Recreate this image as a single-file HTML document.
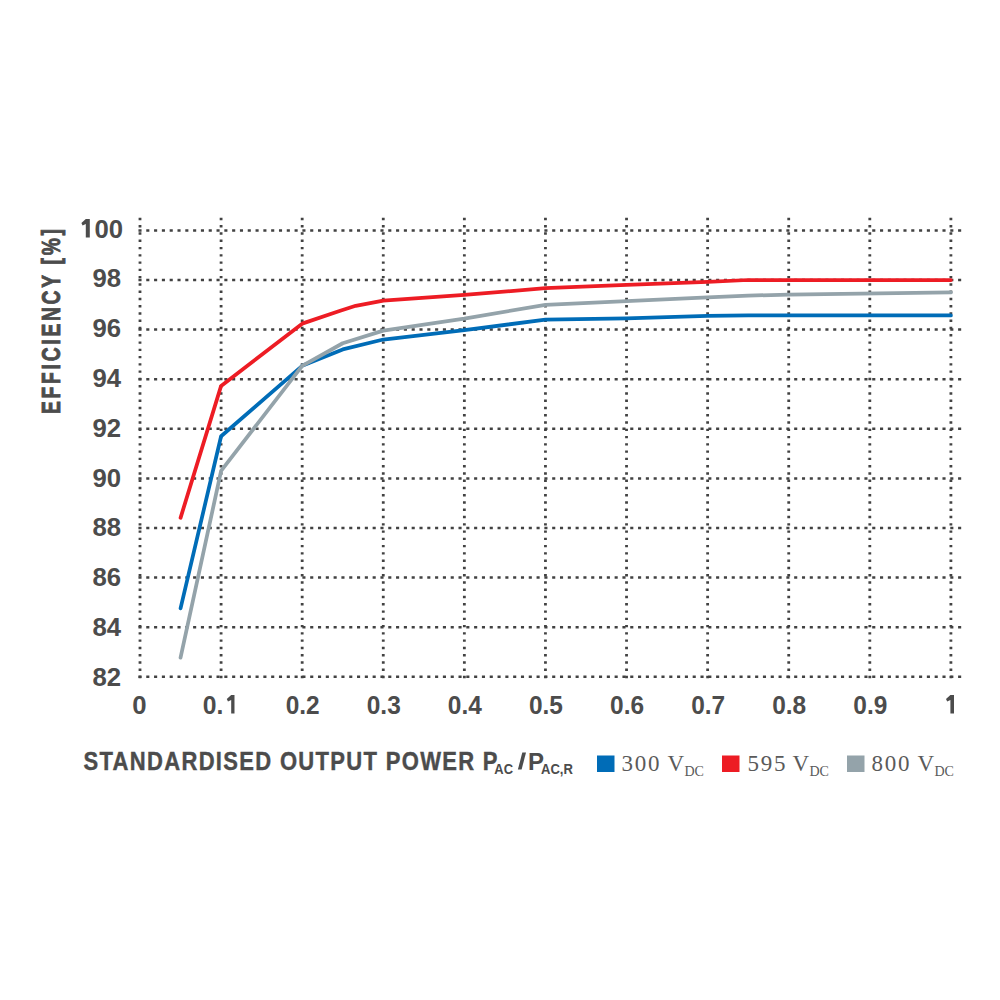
<!DOCTYPE html>
<html><head><meta charset="utf-8"><style>
html,body{margin:0;padding:0;background:#fff;width:1000px;height:1000px;overflow:hidden}
svg{position:absolute;left:0;top:0}
.lab{font-family:"Liberation Sans",sans-serif;font-weight:bold;font-size:26.6px;fill:#4c4c4c}
.ttl{font-family:"Liberation Sans",sans-serif;font-weight:bold;font-size:24px;fill:#4c4c4c}
.sb{font-family:"Liberation Sans",sans-serif;font-weight:bold;font-size:14px;fill:#4c4c4c}
.leg{font-family:"Liberation Serif",serif;font-size:23px;fill:#5a5a5a}
.sub{font-family:"Liberation Serif",serif;font-size:14px;fill:#5a5a5a}
</style></head><body>
<svg width="1000" height="1000" viewBox="0 0 1000 1000">
<g stroke="#424242" stroke-width="2.8" stroke-dasharray="2.4 4.87" fill="none">
<line x1="140.00" y1="217.8" x2="140.00" y2="678.4"/><line x1="221.09" y1="217.8" x2="221.09" y2="678.4"/><line x1="302.18" y1="217.8" x2="302.18" y2="678.4"/><line x1="383.27" y1="217.8" x2="383.27" y2="678.4"/><line x1="464.36" y1="217.8" x2="464.36" y2="678.4"/><line x1="545.45" y1="217.8" x2="545.45" y2="678.4"/><line x1="626.54" y1="217.8" x2="626.54" y2="678.4"/><line x1="707.63" y1="217.8" x2="707.63" y2="678.4"/><line x1="788.72" y1="217.8" x2="788.72" y2="678.4"/><line x1="869.81" y1="217.8" x2="869.81" y2="678.4"/><line x1="950.90" y1="217.8" x2="950.90" y2="678.4"/>
</g>
<g stroke="#424242" stroke-width="2.5" stroke-dasharray="3.1 4.706" fill="none">
<line x1="138.45" y1="230.40" x2="961.3" y2="230.40"/><line x1="138.45" y1="280.00" x2="961.3" y2="280.00"/><line x1="138.45" y1="329.60" x2="961.3" y2="329.60"/><line x1="138.45" y1="379.20" x2="961.3" y2="379.20"/><line x1="138.45" y1="428.80" x2="961.3" y2="428.80"/><line x1="138.45" y1="478.40" x2="961.3" y2="478.40"/><line x1="138.45" y1="528.00" x2="961.3" y2="528.00"/><line x1="138.45" y1="577.60" x2="961.3" y2="577.60"/><line x1="138.45" y1="627.20" x2="961.3" y2="627.20"/><line x1="138.45" y1="676.80" x2="961.3" y2="676.80"/>
</g>
<g fill="none" stroke-width="3.75" stroke-linejoin="round" stroke-linecap="round">
<path d="M180.55,608.35 L221.09,436.24 L302.18,365.81 L342.73,349.44 L383.27,339.52 L464.36,330.10 L545.45,319.68 L626.54,318.44 L707.63,315.96 L748.17,315.46 L950.90,315.46" stroke="#006cb7"/>
<path d="M180.55,657.70 L221.09,470.96 L302.18,365.81 L342.73,343.24 L383.27,330.59 L464.36,318.69 L545.45,304.80 L626.54,301.08 L707.63,297.36 L748.17,295.62 L788.72,294.63 L950.90,292.40" stroke="#94a3aa"/>
<path d="M180.55,517.83 L221.09,385.90 L302.18,323.65 L339.48,311.00 L355.70,305.79 L383.27,300.58 L464.36,294.88 L545.45,288.18 L626.54,284.96 L707.63,281.98 L748.17,280.00 L950.90,280.00" stroke="#ed1c24"/>
</g>
<g class="lab">
<text x="123" y="237.60" text-anchor="end" textLength="28.6" lengthAdjust="spacingAndGlyphs">00</text><text x="121" y="287.40" text-anchor="end" textLength="28.6" lengthAdjust="spacingAndGlyphs">98</text><text x="121" y="337.20" text-anchor="end" textLength="28.6" lengthAdjust="spacingAndGlyphs">96</text><text x="121" y="387.00" text-anchor="end" textLength="28.6" lengthAdjust="spacingAndGlyphs">94</text><text x="121" y="436.80" text-anchor="end" textLength="28.6" lengthAdjust="spacingAndGlyphs">92</text><text x="121" y="486.60" text-anchor="end" textLength="28.6" lengthAdjust="spacingAndGlyphs">90</text><text x="121" y="536.40" text-anchor="end" textLength="28.6" lengthAdjust="spacingAndGlyphs">88</text><text x="121" y="586.20" text-anchor="end" textLength="28.6" lengthAdjust="spacingAndGlyphs">86</text><text x="121" y="636.00" text-anchor="end" textLength="28.6" lengthAdjust="spacingAndGlyphs">84</text><text x="121" y="685.80" text-anchor="end" textLength="28.6" lengthAdjust="spacingAndGlyphs">82</text>
<text x="139.50" y="713.6" text-anchor="middle" textLength="14.3" lengthAdjust="spacingAndGlyphs">0</text><text x="202.79" y="713.6" textLength="20.6" lengthAdjust="spacingAndGlyphs">0.</text><text x="302.68" y="713.6" text-anchor="middle" textLength="34" lengthAdjust="spacingAndGlyphs">0.2</text><text x="383.77" y="713.6" text-anchor="middle" textLength="34" lengthAdjust="spacingAndGlyphs">0.3</text><text x="464.86" y="713.6" text-anchor="middle" textLength="34" lengthAdjust="spacingAndGlyphs">0.4</text><text x="545.95" y="713.6" text-anchor="middle" textLength="34" lengthAdjust="spacingAndGlyphs">0.5</text><text x="627.04" y="713.6" text-anchor="middle" textLength="34" lengthAdjust="spacingAndGlyphs">0.6</text><text x="708.13" y="713.6" text-anchor="middle" textLength="34" lengthAdjust="spacingAndGlyphs">0.7</text><text x="789.22" y="713.6" text-anchor="middle" textLength="34" lengthAdjust="spacingAndGlyphs">0.8</text><text x="870.31" y="713.6" text-anchor="middle" textLength="34" lengthAdjust="spacingAndGlyphs">0.9</text>
</g>
<g fill="#4c4c4c"><path d="M89.80,219.00 L85.80,219.00 L81.40,222.90 L82.60,225.60 L85.80,223.90 L85.80,237.60 L89.80,237.60 Z"/><path d="M234.49,695.00 L231.19,695.00 L226.79,698.90 L227.99,701.60 L231.19,699.90 L231.19,713.60 L234.49,713.60 Z"/><path d="M954.00,695.00 L950.40,695.00 L946.00,698.90 L947.20,701.60 L950.40,699.90 L950.40,713.60 L954.00,713.60 Z"/></g>
<g transform="translate(60,414) rotate(-90) scale(0.74,1)">
<text class="ttl" style="font-size:26px" x="0" y="0" textLength="250" lengthAdjust="spacing" stroke="#4c4c4c" stroke-width="0.9">EFFICIENCY [%]</text>
</g>
<g transform="translate(83.5,769.5) scale(0.88,1)"><text class="ttl" style="font-size:25px" x="0" y="0" textLength="470.5" lengthAdjust="spacing" stroke="#4c4c4c" stroke-width="0.4">STANDARDISED OUTPUT POWER P</text></g>
<text class="sb" x="494.3" y="773.8" textLength="18.7" lengthAdjust="spacingAndGlyphs">AC</text>
<path d="M522.3,752.4 L526.0,752.4 L521.6,769.6 L517.9,769.6 Z" fill="#4c4c4c"/>
<text class="ttl" x="528" y="769.5">P</text>
<text class="sb" x="541" y="773.8" textLength="31.9" lengthAdjust="spacingAndGlyphs">AC,R</text>
<rect x="597" y="755.5" width="17.5" height="16.5" fill="#006cb7"/>
<rect x="722" y="755.5" width="17.5" height="16.5" fill="#ed1c24"/>
<rect x="847" y="755.5" width="17.5" height="16.5" fill="#94a3aa"/>
<text class="leg" x="621.5" y="770.6" textLength="38" lengthAdjust="spacing">300</text><text class="leg" x="667.5" y="770.6">V</text><text class="sub" x="684.5" y="775.6">DC</text>
<text class="leg" x="747.5" y="770.6" textLength="38" lengthAdjust="spacing">595</text><text class="leg" x="792.5" y="770.6">V</text><text class="sub" x="809.5" y="775.6">DC</text>
<text class="leg" x="871.5" y="770.6" textLength="38" lengthAdjust="spacing">800</text><text class="leg" x="917.5" y="770.6">V</text><text class="sub" x="934.5" y="775.6">DC</text>
</svg>
</body></html>
